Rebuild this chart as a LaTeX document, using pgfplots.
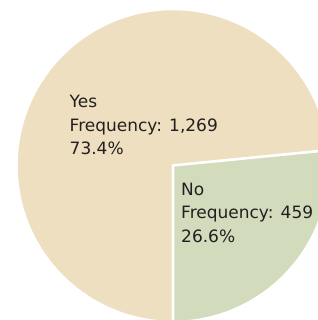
\documentclass[border=0pt]{standalone}
\usepackage{pgfplots}
\pgfplotsset{compat=1.18}
\usepackage{pgfplotstable}
\usepackage{fontspec}
\setmainfont{DejaVu Sans}
\definecolor{yescol}{HTML}{EEDFC0}
\definecolor{nocol}{HTML}{D2DCBD}
\definecolor{txt}{HTML}{231F20}
\pgfplotstableread{
label freq
Yes 1269
No 459
}\piedata
\begin{document}
\begin{tikzpicture}
\pgfplotstablegetelem{0}{freq}\of\piedata \let\yesv\pgfplotsretval
\pgfplotstablegetelem{1}{freq}\of\piedata \let\nov\pgfplotsretval
\pgfmathsetmacro{\tot}{\yesv+\nov}
\pgfmathsetmacro{\nofrac}{\nov/\tot}
\pgfmathsetmacro{\noend}{-90+360*\nofrac}
\begin{axis}[
  hide axis, scale only axis,
  x=1bp, y=1bp,
  xmin=-173, xmax=145, ymin=-154.5, ymax=165.5,
  clip=true,
]
\filldraw[fill=yescol, draw=white, line width=2.5bp]
  (axis cs:0,0) -- +(\noend:156.5bp) arc[start angle=\noend, end angle=270, radius=156.5bp] -- cycle;
\filldraw[fill=nocol, draw=white, line width=2.5bp]
  (axis cs:0,0) -- +(-90:156.5bp) arc[start angle=-90, end angle=\noend, radius=156.5bp] -- cycle;
\begin{scope}[every node/.style={anchor=base west, inner sep=0pt, text=txt, font=\fontsize{17bp}{20bp}\selectfont}]
\node at (axis cs:-103.5,58.5) {Yes};
\node at (axis cs:-103.5,34.5) {Frequency: 1,269};
\node at (axis cs:-103.5,11.5) {73.4\%};
\node at (axis cs:8,-29.5) {No};
\node at (axis cs:8,-52.5) {Frequency: 459};
\node at (axis cs:8,-76.5) {26.6\%};
\end{scope}
\end{axis}
\pgfresetboundingbox
\useasboundingbox (current axis.south west) rectangle (current axis.north east);
\end{tikzpicture}
\end{document}
